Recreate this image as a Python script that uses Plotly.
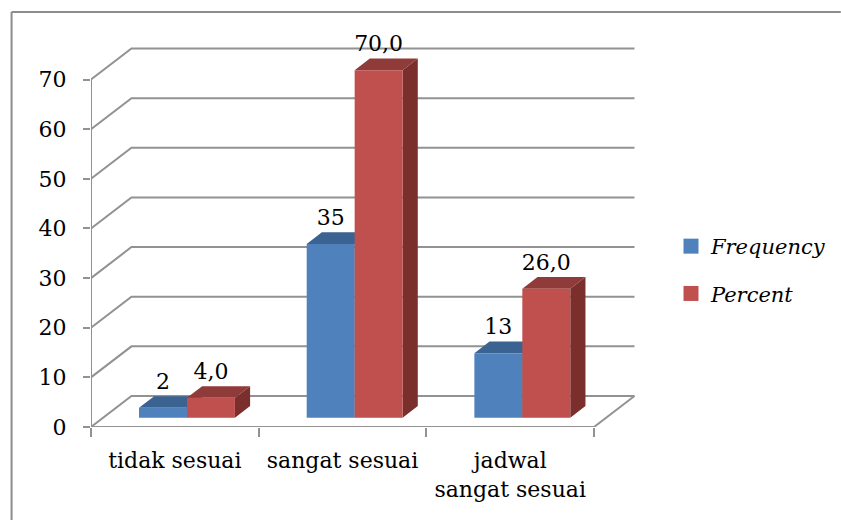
import plotly.graph_objects as go

# Chart data
categories = ["tidak sesuai", "sangat sesuai", "jadwal<br>sangat sesuai"]
frequency = [2, 35, 13]
percent = [4.0, 70.0, 26.0]
y_ticks = [0, 10, 20, 30, 40, 50, 60, 70]

FONT = "DejaVu Serif"
FONT_SIZE = 22
GRID = "#929292"

# Canvas and plot area, in pixels
W, H = 841, 520
LEFT, RIGHT, TOP, BOTTOM = 90.5, 636, 30, 426.7
CAT_PX = 167.83
UNIT_PX = 4.96

# Oblique projection of the chart's depth, in axis units
DX = 40.5 / CAT_PX
DY = 31 / UNIT_PX
BAR_FRONT = 0.30          # share of the depth in front of the bars
BAR_DEPTH = 0.375         # share of the depth taken by the bars
BAR_W = 48 / CAT_PX
LABEL_LIFT = 2 / UNIT_PX  # extra clearance between a bar's top and its label


def box_faces(x0, x1, v):
    """Front, top and side outlines of one bar standing on the floor."""
    bx, by = DX * BAR_FRONT, DY * BAR_FRONT
    dx, dy = DX * BAR_DEPTH, DY * BAR_DEPTH
    xa, xb = x0 + bx, x1 + bx
    top = by + v
    front = ([xa, xb, xb, xa, xa], [by, by, top, top, by])
    cap = ([xa, xb, xb + dx, xa + dx, xa], [top, top, top + dy, top + dy, top])
    side = ([xb, xb + dx, xb + dx, xb, xb], [by, by + dy, top + dy, top, by])
    return front, cap, side


def joined(polys):
    xs, ys = [], []
    for px, py in polys:
        xs += list(px) + [None]
        ys += list(py) + [None]
    return xs, ys


def poly_trace(polys, color):
    xs, ys = joined(polys)
    return go.Scatter(x=xs, y=ys, mode="lines", fill="toself", fillcolor=color,
                      line=dict(width=0), showlegend=False, hoverinfo="skip")


fig = go.Figure()

# Back wall, side wall and floor lines
wall_x, wall_y = [], []
n = len(categories)
for v in y_ticks:
    wall_x += [0, DX, n + DX, None]
    wall_y += [v, v + DY, v + DY, None]
wall_x += [0, 0, None, 0, n, n + DX, None]
wall_y += [0, y_ticks[-1], None, 0, 0, DY, None]
fig.add_trace(go.Scatter(x=wall_x, y=wall_y, mode="lines",
                         line=dict(color=GRID, width=2),
                         showlegend=False, hoverinfo="skip"))

series = [
    ("Frequency", frequency, -BAR_W, "#4F81BD", "#3B6391", "#2F4F75", lambda v: f"{v}"),
    ("Percent", percent, 0.0, "#C0504D", "#8E3B39", "#7A2F2D", lambda v: f"{v:.1f}".replace(".", ",")),
]

for name, values, shift, c_front, c_top, c_side, fmt in series:
    faces = [box_faces(i + 0.5 + shift, i + 0.5 + shift + BAR_W, v) for i, v in enumerate(values)]
    fig.add_trace(poly_trace([f[2] for f in faces], c_side))
    fig.add_trace(poly_trace([f[1] for f in faces], c_top))
    fig.add_trace(poly_trace([f[0] for f in faces], c_front))

# Value labels above each bar
for name, values, shift, c_front, c_top, c_side, fmt in series:
    fig.add_trace(go.Scatter(
        x=[i + 0.5 + shift + BAR_W / 2 + DX * BAR_FRONT for i in range(n)],
        y=[DY * (BAR_FRONT + BAR_DEPTH) + LABEL_LIFT + v for v in values],
        mode="text", text=[fmt(v) for v in values], textposition="top center",
        textfont=dict(family=FONT, size=FONT_SIZE, color="#000000"),
        showlegend=False, hoverinfo="skip", cliponaxis=False))

# Legend entries
for name, values, shift, c_front, c_top, c_side, fmt in series:
    fig.add_trace(go.Scatter(x=[None], y=[None], mode="markers", name=name, legendgroup=name,
                             marker=dict(symbol="square", size=15, color=c_front)))

x_end = (RIGHT - LEFT) / CAT_PX
y_end = (BOTTOM - TOP) / UNIT_PX


def px(x):
    return (x - LEFT) / (RIGHT - LEFT)


def py(y):
    return (BOTTOM - y) / (BOTTOM - TOP)


border = dict(color="#8C8C8C", width=2)
fig.update_layout(
    width=W, height=H, autosize=False,
    margin=dict(l=LEFT, r=W - RIGHT, t=TOP, b=H - BOTTOM, pad=0),
    paper_bgcolor="white", plot_bgcolor="white",
    font=dict(family=FONT, size=FONT_SIZE, color="#000000"),
    xaxis=dict(range=[0, x_end], showgrid=False, zeroline=False, showline=False,
               tickmode="array", tickvals=[i + 0.5 for i in range(n)], ticktext=categories,
               ticks="", ticklen=0, ticklabelstandoff=18, tickfont=dict(family=FONT, size=FONT_SIZE),
               minor=dict(tickmode="array", tickvals=list(range(n + 1)), ticks="outside",
                          ticklen=9, tickwidth=2, tickcolor=GRID, showgrid=False)),
    yaxis=dict(range=[0, y_end], showgrid=False, zeroline=False, showline=False,
               tickmode="array", tickvals=y_ticks, ticks="outside", ticklen=7, tickwidth=2,
               ticklabelstandoff=12,
               tickcolor=GRID, tickfont=dict(family=FONT, size=FONT_SIZE)),
    legend=dict(x=671 / W, y=1 - 226 / H, xref="container", yref="container",
                xanchor="left", yanchor="top", tracegroupgap=17,
                font=dict(family=FONT, size=FONT_SIZE - 1, style="italic"),
                bgcolor="rgba(0,0,0,0)"),
    shapes=[
        dict(type="line", xref="paper", yref="paper", x0=px(11), x1=px(11), y0=py(12), y1=py(520), line=border),
        dict(type="line", xref="paper", yref="paper", x0=px(11), x1=px(841), y0=py(12), y1=py(12), line=border),
    ],
)

fig.write_html("out.html")
